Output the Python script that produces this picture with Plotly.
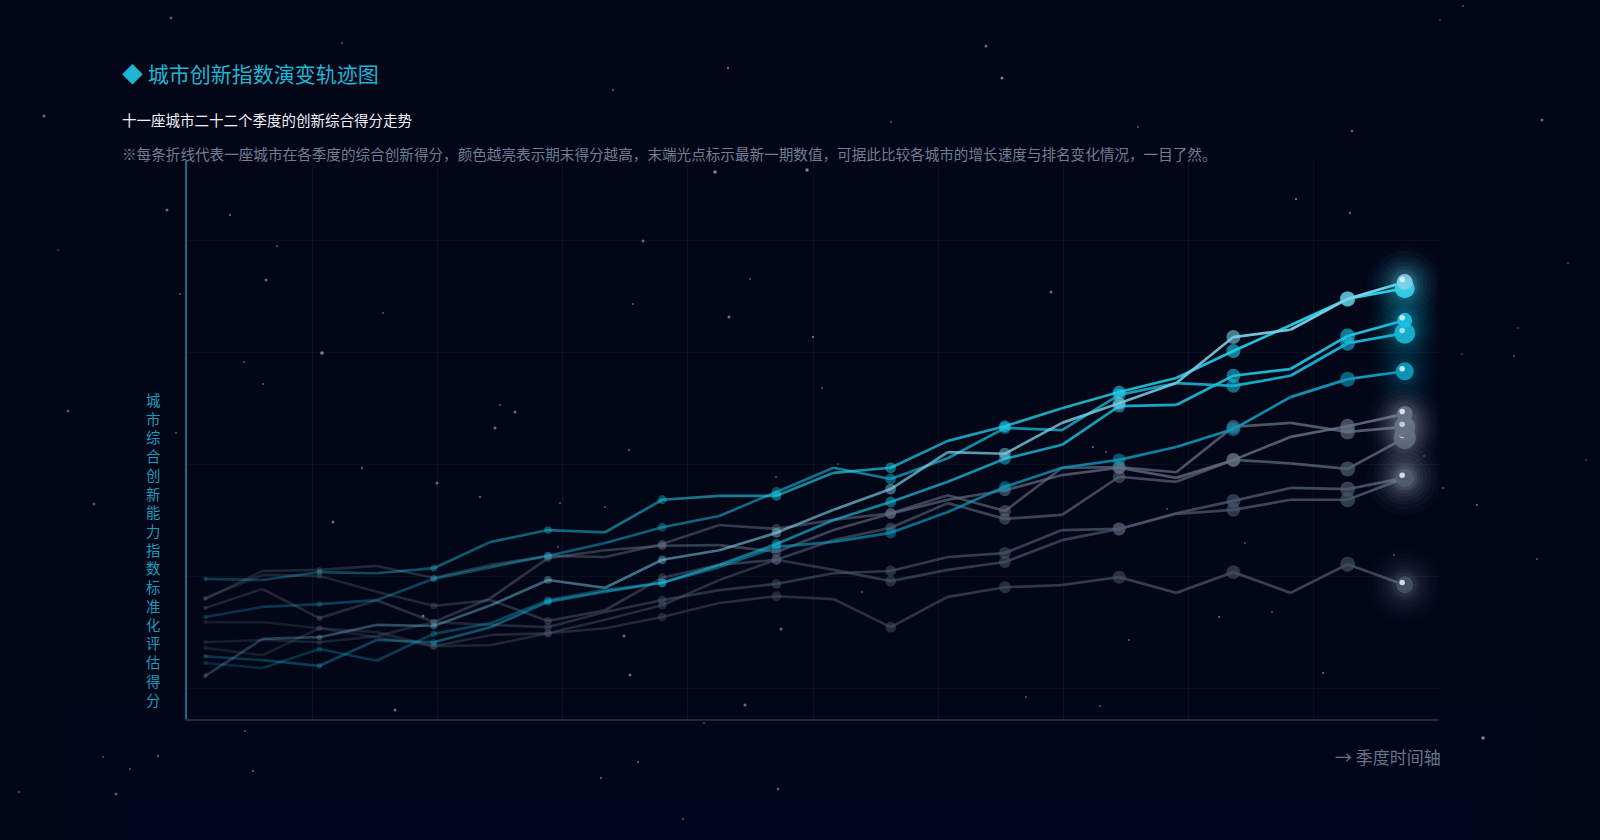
import plotly.graph_objects as go

# ---------------- data ----------------
QUARTERS = [f"{2020 + i // 4}Q{i % 4 + 1}" for i in range(22)]

CITY_NAMES = ["深圳", "杭州", "北京", "上海", "南京", "成都", "武汉", "西安", "苏州", "合肥", "重庆"]

SZ = [2.3, 8.9, 9.2, 11.4, 11.2, 14.9, 19.4, 18.0, 23.0, 24.7, 27.8, 31.9, 35.6, 42.2, 41.9, 47.4, 50.9, 54.5, 62.7, 64.0, 69.5, 72.5]
HZ = [19.6, 19.4, 20.8, 20.6, 21.5, 26.2, 28.3, 27.9, 33.7, 34.4, 34.4, 38.5, 39.4, 44.2, 46.8, 50.0, 52.9, 55.4, 60.2, 64.8, 69.5, 71.4]
BJ = [5.8, 5.1, 4.1, 8.7, 8.3, 11.0, 15.5, 17.3, 18.9, 22.1, 25.8, 30.1, 33.3, 36.9, 41.0, 43.5, 50.4, 50.6, 55.8, 57.0, 62.9, 65.7]
SH = [12.8, 14.6, 15.1, 15.8, 19.6, 21.7, 23.7, 26.0, 28.8, 30.8, 35.1, 39.4, 37.4, 41.1, 46.5, 46.1, 52.4, 54.5, 54.0, 55.8, 61.6, 63.4]
NJ = [4.6, 3.7, 7.1, 5.0, 9.8, 11.7, 15.8, 17.6, 18.9, 21.7, 25.3, 26.2, 27.8, 31.5, 36.0, 39.4, 40.8, 43.1, 46.3, 52.0, 55.2, 56.6]
CD = [14.4, 17.8, 12.6, 15.8, 11.9, 16.2, 23.3, 24.7, 25.5, 25.6, 24.4, 28.3, 31.2, 33.7, 35.4, 38.1, 39.4, 37.6, 40.8, 44.9, 46.8, 49.0]
WH = [16.0, 21.0, 21.2, 21.9, 19.8, 22.1, 23.7, 23.5, 25.8, 29.2, 28.5, 30.1, 31.3, 34.5, 31.7, 39.4, 39.5, 38.6, 46.7, 47.4, 45.8, 46.7]
XA = [16.2, 20.3, 20.1, 17.3, 14.8, 15.8, 12.1, 14.0, 19.8, 22.1, 23.0, 26.5, 28.7, 33.1, 30.3, 31.0, 37.8, 36.9, 40.8, 40.2, 39.2, 44.7]
SU = [8.3, 8.7, 8.3, 9.4, 11.9, 11.4, 11.0, 13.7, 15.8, 17.6, 18.7, 20.6, 21.0, 23.5, 24.2, 28.3, 28.5, 31.3, 33.5, 35.8, 35.6, 37.6]
HF = [7.3, 6.0, 10.8, 10.1, 7.6, 9.6, 9.9, 12.3, 14.9, 19.4, 23.0, 21.2, 19.2, 21.2, 22.6, 26.5, 28.5, 31.2, 31.9, 33.7, 33.7, 37.6]
CQ = [11.9, 11.9, 10.8, 9.2, 7.6, 7.8, 9.9, 10.8, 12.8, 15.3, 16.5, 16.0, 11.0, 16.4, 18.1, 18.5, 19.9, 17.1, 20.8, 17.1, 22.2, 18.5]

SERIES = [SZ, HZ, BJ, SH, NJ, CD, WH, XA, SU, HF, CQ]

TITLE = "◆ 城市创新指数演变轨迹图"
SUBTITLE = "十一座城市二十二个季度的创新综合得分走势"
DESC = "※每条折线代表一座城市在各季度的综合创新得分，颜色越亮表示期末得分越高，末端光点标示最新一期数值，可据此比较各城市的增长速度与排名变化情况，一目了然。"
Y_TITLE = "城市综合创新能力指数标准化评估得分"
X_TITLE = "→ 季度时间轴"

# ---------------- style ----------------
W, H = 1600, 840
ML, MR, MT, MB = 187, 161, 160, 121
PW, PH = W - ML - MR, H - MT - MB
BG = "#020617"
FONT = "Noto Sans CJK SC"

COLORS = [
    (125, 208, 230), (34, 211, 238), (30, 192, 224), (24, 180, 212), (14, 152, 186),
    (102, 114, 134), (94, 106, 126), (86, 98, 118), (78, 90, 110), (74, 86, 106), (68, 80, 100),
]
END_SIZES = [16, 20, 15, 21, 18, 16, 21, 22, 18, 18, 17]
CYAN_N = 5

# decorative background star field (page pixels: x, y, radius, alpha)
STAR_FIELD = [
    (44, 116, 1.5, 0.5), (171, 18, 1.5, 0.4), (342, 43, 1, 0.4), (613, 90, 1, 0.5), (728, 68, 1.2, 0.5),
    (986, 46, 1.5, 0.5), (1002, 78, 1.5, 0.6), (1352, 131, 1.2, 0.5), (1542, 120, 1.5, 0.5), (1463, 6, 1, 0.4),
    (167, 210, 1.5, 0.5), (230, 215, 1.2, 0.4), (266, 280, 1.5, 0.5), (277, 246, 1, 0.4), (322, 353, 1.8, 0.6),
    (383, 313, 1, 0.4), (263, 384, 1, 0.4), (244, 362, 1, 0.4), (437, 483, 1.5, 0.5), (362, 468, 1.2, 0.4),
    (333, 522, 1.5, 0.5), (480, 497, 1.2, 0.4), (495, 428, 1.5, 0.5), (515, 412, 1.5, 0.5), (500, 405, 1, 0.4),
    (643, 241, 1.5, 0.5), (715, 172, 1.8, 0.6), (807, 170, 1.8, 0.6), (729, 317, 1.5, 0.5), (750, 279, 1, 0.4),
    (813, 337, 1.2, 0.5), (822, 388, 1, 0.4), (1051, 292, 1.5, 0.5), (1093, 447, 1.2, 0.4), (1167, 509, 1, 0.4),
    (1323, 673, 1.2, 0.4), (1394, 555, 1, 0.4), (1443, 488, 1, 0.4), (1477, 505, 1.2, 0.4), (1483, 738, 1.8, 0.6),
    (1537, 559, 1, 0.4), (1514, 356, 1, 0.4), (1462, 354, 1, 0.3), (1296, 199, 1.2, 0.5), (1350, 213, 1.2, 0.5),
    (1138, 127, 1, 0.4), (891, 122, 1, 0.4), (94, 504, 1.5, 0.4), (68, 411, 1.5, 0.4), (176, 433, 1, 0.4),
    (180, 294, 1, 0.4), (245, 731, 1, 0.4), (253, 771, 1.2, 0.4), (158, 756, 1.2, 0.4), (130, 769, 1, 0.4),
    (103, 757, 1, 0.4), (19, 792, 1.2, 0.3), (116, 794, 1.5, 0.4), (395, 710, 1.5, 0.5), (423, 616, 1.5, 0.5),
    (601, 778, 1.2, 0.4), (638, 762, 1.2, 0.4), (683, 819, 1.2, 0.3), (704, 723, 1, 0.4), (745, 705, 1.5, 0.5),
    (778, 789, 1.5, 0.4), (1026, 697, 1, 0.4), (1100, 706, 1, 0.4), (1129, 640, 1, 0.4), (1219, 617, 1.2, 0.4),
    (1272, 612, 1, 0.4), (1424, 456, 1, 0.3), (630, 675, 1.5, 0.5), (624, 636, 1.5, 0.5), (605, 507, 1, 0.4),
    (633, 304, 1, 0.4), (560, 503, 1, 0.4), (558, 547, 1, 0.4), (629, 450, 1.2, 0.4), (1106, 452, 1, 0.4),
    (862, 592, 1, 0.4), (781, 629, 1.5, 0.5), (776, 477, 1, 0.4), (838, 464, 1, 0.3), (1245, 543, 1, 0.4),
    (58, 250, 1, 0.3), (1568, 263, 1, 0.3), (1586, 460, 1, 0.3), (1518, 328, 1, 0.3), (1440, 20, 1, 0.3),
]

X = list(range(len(QUARTERS)))
XR = [-0.32, 21.6]
YR = [-5.38, 94.26]


def rgba(c, a):
    return f"rgba({c[0]},{c[1]},{c[2]},{a:.3f})"


def px_x(px):
    return (px - ML) / PW


def px_y(py):
    return (H - MB - py) / PH


fig = go.Figure()

order = list(range(len(SERIES)))[::-1]  # grey first, bright cyan on top
nseg = len(X) - 1

for k in order:
    vals = SERIES[k]
    col = COLORS[k]
    is_cyan = k < CYAN_N
    a0, a1 = (0.25, 1.0) if is_cyan else (0.28, 0.85)
    for j in range(nseg):
        t = j / (nseg - 1)
        a = a0 + (a1 - a0) * t
        fig.add_trace(go.Scatter(
            x=[X[j], X[j + 1]], y=[vals[j], vals[j + 1]], mode="lines",
            line=dict(color=rgba(col, a), width=2.7),
            hoverinfo="skip", showlegend=False))
    idx = [i for i in range(0, nseg, 2)]
    fig.add_trace(go.Scatter(
        x=[X[i] for i in idx], y=[vals[i] for i in idx], mode="markers",
        marker=dict(size=[4.6 + 0.52 * i for i in idx],
                    color=[rgba(col, (0.32 if is_cyan else 0.38) + 0.6 * i / nseg) for i in idx],
                    line=dict(width=0)),
        name=CITY_NAMES[k], text=[QUARTERS[i] for i in idx],
        hovertemplate="%{text}: %{y}<extra>" + CITY_NAMES[k] + "</extra>",
        showlegend=False))

# end glows (soft, layered)
for k in order:
    vals = SERIES[k]
    col = COLORS[k]
    is_cyan = k < CYAN_N
    gcol = col if is_cyan else (150, 160, 180)
    xe, ye = X[-1], vals[-1]
    for s, a in [(76, 0.02), (64, 0.025), (54, 0.03), (46, 0.035), (38, 0.045), (31, 0.06), (25, 0.08)]:
        fig.add_trace(go.Scatter(x=[xe], y=[ye], mode="markers",
                                 marker=dict(size=s, color=rgba(gcol, a), line=dict(width=0)),
                                 hoverinfo="skip", showlegend=False))
    fig.add_trace(go.Scatter(x=[xe], y=[ye], mode="markers",
                             marker=dict(size=END_SIZES[k], color=rgba(col, 0.95), line=dict(width=0)),
                             name=CITY_NAMES[k], hovertemplate="%{y}<extra>" + CITY_NAMES[k] + "</extra>",
                             showlegend=False))
    fig.add_trace(go.Scatter(x=[xe - 0.045], y=[ye + 0.45], mode="markers",
                             marker=dict(size=5.5, color="rgba(235,245,250,0.85)", line=dict(width=0)),
                             hoverinfo="skip", showlegend=False))

annotations = [
    dict(text=TITLE, x=px_x(120), y=px_y(73), xanchor="left", yanchor="middle",
         font=dict(family=FONT, size=21, color="#1fb5d3")),
    dict(text=SUBTITLE, x=px_x(120), y=px_y(120), xanchor="left", yanchor="middle",
         font=dict(family=FONT, size=14.5, color="#eef2f7")),
    dict(text=DESC, x=px_x(120), y=px_y(153), xanchor="left", yanchor="middle",
         font=dict(family=FONT, size=14.6, color="#6f7e93")),
    dict(text="<br>".join(list(Y_TITLE)), x=px_x(153), y=px_y(549), xanchor="center", yanchor="middle",
         font=dict(family=FONT, size=14.4, color="#1a9cbc")),
    dict(text=X_TITLE, x=px_x(1443), y=px_y(756), xanchor="right", yanchor="middle",
         font=dict(family=FONT, size=17, color="#66758b")),
]
for a in annotations:
    a.update(xref="paper", yref="paper", showarrow=False)

shapes = []
# soft bottom glow band
for k in range(8):
    top = 700 + k * 17
    shapes.append(dict(type="rect", xref="paper", yref="paper",
                       x0=px_x(60 + k * 10), x1=px_x(1540 - k * 10), y0=px_y(H), y1=px_y(top),
                       fillcolor="rgba(12,24,48,0.06)", line=dict(width=0), layer="below"))
# star field
for sx, sy, sr, sa in STAR_FIELD:
    shapes.append(dict(type="circle", xref="paper", yref="paper",
                       xsizemode="pixel", ysizemode="pixel",
                       xanchor=px_x(sx), yanchor=px_y(sy),
                       x0=-sr, x1=sr, y0=-sr, y1=sr,
                       fillcolor=f"rgba(200,210,228,{sa})", line=dict(width=0), layer="below"))

xt = [XR[0] + (XR[1] - XR[0]) * k / 10 for k in range(1, 11)]

fig.update_layout(
    width=W, height=H,
    margin=dict(l=ML, r=MR, t=MT, b=MB, pad=0),
    paper_bgcolor=BG, plot_bgcolor="rgba(0,0,0,0)",
    showlegend=False,
    annotations=annotations,
    shapes=shapes,
    hoverlabel=dict(bgcolor="#0b1224", font=dict(family=FONT, color="#e2e8f0")),
    xaxis=dict(range=XR, tickvals=xt, showticklabels=False, ticks="",
               showgrid=True, gridcolor="rgba(148,163,184,0.07)", gridwidth=1,
               zeroline=False, showline=True, linecolor="#1d2b40", linewidth=1.5),
    yaxis=dict(range=YR, tickvals=[0, 20, 40, 60, 80], showticklabels=False, ticks="",
               showgrid=True, gridcolor="rgba(148,163,184,0.06)", gridwidth=1,
               zeroline=False, showline=True, linecolor="#1a6a80", linewidth=2),
)

fig.write_html(
    "out.html",
    config={"displayModeBar": False},
    post_script="document.body.style.margin='0';document.body.style.background='#020617';",
)
